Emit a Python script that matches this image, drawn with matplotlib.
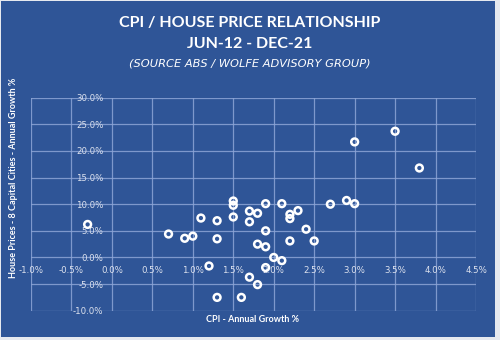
import matplotlib
matplotlib.use("Agg")
import matplotlib.pyplot as plt
from matplotlib.patches import Rectangle
from matplotlib.ticker import FuncFormatter, MultipleLocator

# CPI annual growth (%) vs house prices annual growth (%), Jun-12 .. Dec-21
cpi = [-0.3, 0.7, 0.9, 1.0, 1.1, 1.3, 1.3, 1.2, 1.3, 1.6,
       1.5, 1.5, 1.5, 1.7, 1.7, 1.7, 1.9, 2.1, 1.8, 2.2,
       2.2, 2.3, 1.9, 2.4, 1.8, 1.9, 2.2, 2.5, 2.0, 2.1,
       1.9, 1.8, 2.7, 2.9, 3.0, 3.0, 3.5, 3.8]
house = [6.2, 4.4, 3.6, 4.0, 7.4, 6.9, 3.5, -1.6, -7.5, -7.5,
         10.6, 9.8, 7.6, 8.7, 6.7, -3.7, 10.1, 10.1, 8.3, 8.1,
         7.3, 8.8, 5.0, 5.3, 2.5, 2.0, 3.1, 3.1, 0.0, -0.6,
         -1.9, -5.1, 10.0, 10.7, 10.1, 21.7, 23.7, 16.8]

title_lines = ["CPI / HOUSE PRICE RELATIONSHIP", "JUN-12 - DEC-21"]
source_text = "(SOURCE ABS / WOLFE ADVISORY GROUP)"

bg = "#2F5597"
grid_col = "#8DA5D6"
tick_col = "#DDE2EE"

W, H = 500, 340
fig = plt.figure(figsize=(W / 100, H / 100), dpi=100, facecolor="#E6E9EF")
fig.patches.append(Rectangle((1 / W, 3 / H), 494 / W, 336 / H, transform=fig.transFigure,
                             facecolor=bg, edgecolor="none", zorder=-10))

ax = fig.add_axes([31 / W, 1 - 310.7 / H, 445 / W, 213 / H])
ax.set_facecolor("none")
ax.scatter(cpi, house, s=24, facecolor="none", edgecolor="white", linewidth=1.8, zorder=3)

ax.set_xlim(-1.0, 4.5)
ax.set_ylim(-10, 30)
ax.xaxis.set_major_locator(MultipleLocator(0.5))
ax.yaxis.set_major_locator(MultipleLocator(5))
ax.xaxis.set_major_formatter(FuncFormatter(lambda v, p: f"{v:.1f}%"))
ax.yaxis.set_major_formatter(FuncFormatter(lambda v, p: f"{v:.1f}%"))
ax.grid(True, color=grid_col, linewidth=0.9, alpha=0.85)
ax.set_axisbelow(True)

# axes cross at zero like the excel chart
ax.spines["left"].set_position(("data", 0))
ax.spines["bottom"].set_position(("data", 0))
for s in ax.spines.values():
    s.set_color("none")
ax.tick_params(length=0, labelsize=6.2, labelcolor=tick_col, pad=6)
ax.tick_params(axis="x", pad=6.5)

fig.text(253 / W, 1 - 319 / H, "CPI - Annual Growth %", ha="center", va="center",
         color="white", fontsize=6.5, fontweight="bold", family="Lato")
fig.text(14 / W, 1 - 178 / H, "House Prices - 8 Capital Cities - Annual Growth %",
         ha="center", va="center", rotation=90, color="white", fontsize=6.5,
         fontweight="bold", family="Lato")

fig.text(0.5, 1 - 23 / H, title_lines[0], ha="center", va="center", color="white",
         fontsize=11.5, fontweight="bold", family="Lato")
fig.text(0.5, 1 - 44 / H, title_lines[1], ha="center", va="center", color="white",
         fontsize=11.5, fontweight="bold", family="Lato")
fig.text(0.5, 1 - 63 / H, source_text, ha="center", va="center", color="white",
         fontsize=8.2, fontstyle="italic", family="DejaVu Sans")

fig.savefig("out.png", dpi=100, facecolor=fig.get_facecolor())
